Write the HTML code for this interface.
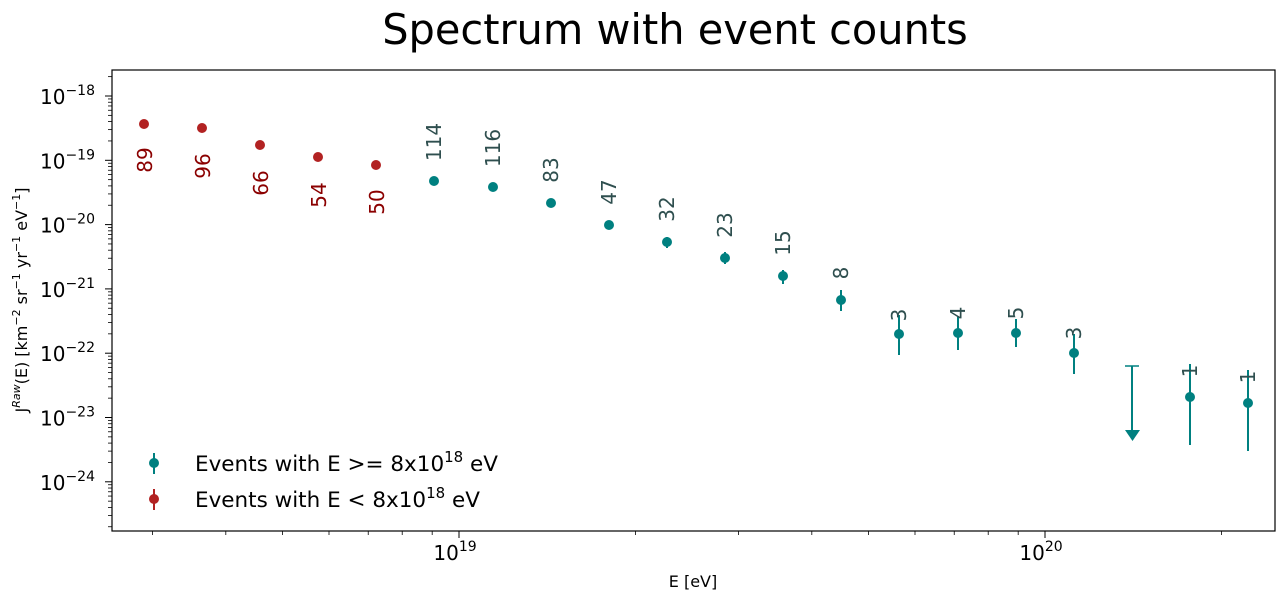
<!DOCTYPE html>
<html><head><meta charset="utf-8"><style>
body{margin:0;background:#fff;}
svg{display:block;font-family:"DejaVu Sans","Liberation Sans",sans-serif;}
</style></head><body>
<svg id="s" width="1284" height="600" xmlns="http://www.w3.org/2000/svg">
<rect width="1284" height="600" fill="#fff"/>
<text x="675" y="44" font-size="41.5" text-anchor="middle" fill="#000">Spectrum with event counts</text>
<g id="g"></g>
<rect x="112" y="70" width="1163" height="461" fill="none" stroke="#000" stroke-width="1.2"/>
<text x="693" y="587" font-size="16" text-anchor="middle">E [eV]</text>
<text transform="translate(27,300) rotate(-90)" font-size="16" text-anchor="middle">J<tspan dy="-7" font-size="11" font-style="italic">Raw</tspan><tspan dy="7">(E) [km</tspan><tspan dy="-7" font-size="11">−2</tspan><tspan dy="7"> sr</tspan><tspan dy="-7" font-size="11">−1</tspan><tspan dy="7"> yr</tspan><tspan dy="-7" font-size="11">−1</tspan><tspan dy="7"> eV</tspan><tspan dy="-7" font-size="11">−1</tspan><tspan dy="7">]</tspan></text>
</svg>
<script>
var g=document.getElementById('g'),h='';
function X(l){return 459+586*(l-19);}
function Y(l){return 96+64.3*(-18-l);}
[[19,'10','19'],[20,'10','20']].forEach(function(t){var x=X(t[0]);h+='<line x1="'+x+'" y1="531" x2="'+x+'" y2="538" stroke="#000"/><text x="'+(x-4)+'" y="560" font-size="20" text-anchor="middle">'+t[1]+'<tspan dy="-9" font-size="14">'+t[2]+'</tspan></text>';});
[18,19,20].forEach(function(d){for(var m=2;m<10;m++){var x=X(d+Math.log10(m));if(x>112&&x<1275)h+='<line x1="'+x+'" y1="531" x2="'+x+'" y2="535" stroke="#000" stroke-width="0.8"/>';}});
for(var d=-25;d<=-18;d++){var y=Y(d);if(y>70&&y<531)h+='<line x1="105" y1="'+y+'" x2="112" y2="'+y+'" stroke="#000"/><text x="40" y="'+(y+8)+'" font-size="20">10<tspan dy="-9" font-size="14">−'+(-d)+'</tspan></text>';
for(var m=2;m<10;m++){var yy=Y(d+Math.log10(m));if(yy>70&&yy<531)h+='<line x1="108" y1="'+yy+'" x2="112" y2="'+yy+'" stroke="#000" stroke-width="0.8"/>';}}
var red=[[144,124,'89',160],[202,128,'96',166],[260,145,'66',183],[318,157,'54',195],[376,165,'50',202]];
red.forEach(function(p){h+='<circle cx="'+p[0]+'" cy="'+p[1]+'" r="5" fill="#b22222"/><text transform="translate('+(p[0]+8)+','+p[3]+') rotate(-90)" font-size="20" text-anchor="middle" fill="#8b0000">'+p[2]+'</text>';});
var teal=[[434,181,0,0,'114',142],[493,187,0,0,'116',148],[551,203,0,0,'83',170],[609,225,0,0,'47',192],[667,242,237,248,'32',209],[725,258,252,264,'23',225],[783,276,270,284,'15',243],[841,300,290,311,'8',273],[899,334,315,355,'3',315],[958,333,316,350,'4',313],[1016,333,319,347,'5',313],[1074,353,334,374,'3',333],[1190,397,364,445,'1',371],[1248,403,370,451,'1',377]];
teal.forEach(function(p){if(p[2])h+='<line x1="'+p[0]+'" y1="'+p[2]+'" x2="'+p[0]+'" y2="'+p[3]+'" stroke="#008080" stroke-width="2"/>';h+='<circle cx="'+p[0]+'" cy="'+p[1]+'" r="5" fill="#008080"/><text transform="translate('+(p[0]+7)+','+p[5]+') rotate(-90)" font-size="20" text-anchor="middle" fill="#2f4f4f">'+p[4]+'</text>';});
h+='<line x1="1132" y1="366" x2="1132" y2="432" stroke="#008080" stroke-width="2"/><line x1="1125" y1="366" x2="1139" y2="366" stroke="#008080" stroke-width="1.5"/><polygon points="1125,430 1140,430 1132.5,441" fill="#008080"/>';
h+='<line x1="154" y1="453" x2="154" y2="474" stroke="#008080" stroke-width="2"/><circle cx="154" cy="463" r="5" fill="#008080"/><text x="195" y="471" font-size="21.5">Events with E &gt;= 8x10<tspan dy="-9" font-size="15">18</tspan><tspan dy="9"> eV</tspan></text>';
h+='<line x1="154" y1="489" x2="154" y2="510" stroke="#b22222" stroke-width="2"/><circle cx="154" cy="499" r="5" fill="#b22222"/><text x="195" y="507" font-size="21.5">Events with E &lt; 8x10<tspan dy="-9" font-size="15">18</tspan><tspan dy="9"> eV</tspan></text>';
g.innerHTML=h;
</script>
</body></html>
